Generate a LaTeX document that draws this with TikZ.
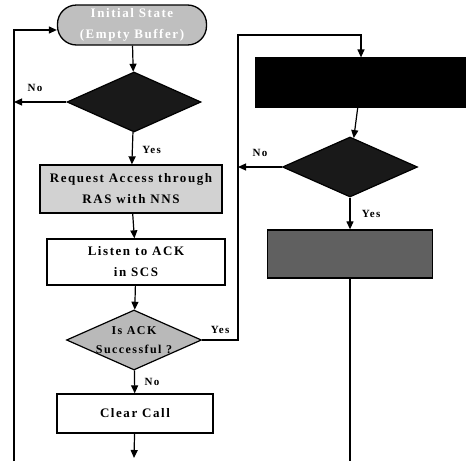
\documentclass[tikz,border=0pt]{standalone}
\usepackage{fontspec}
\newfontfamily\flowfont[LetterSpace=12]{Liberation Serif}
\usetikzlibrary{arrows.meta,shapes.geometric,calc}
\tikzset{
  every picture/.style={line join=miter, >={Triangle[length=8pt,width=7pt]}},
  flow/.style={line width=1.2pt},
  boxtext/.style={font=\flowfont\bfseries\fontsize{13}{21}\selectfont, align=center},
  startbox/.style={draw, line width=1.3pt, rounded corners=19pt, fill=gray!50, text=white,
    boxtext, minimum width=149pt, minimum height=40pt, inner sep=0pt},
  procbox/.style={draw, line width=1.3pt, fill=white, boxtext, inner sep=0pt},
  decision/.style={draw, line width=1.2pt, diamond, fill=gray!55, inner sep=0pt,
    minimum width=134pt, minimum height=60pt},
  dectext/.style={label={[boxtext, font=\flowfont\bfseries\fontsize{12}{19}\selectfont]center:#1}},
  lbl/.style={font=\flowfont\bfseries\fontsize{11}{13}\selectfont},
}

\begin{document}
\begin{tikzpicture}[x=1pt,y=-1pt]
\useasboundingbox (0,0) rectangle (466,461);
% left column
\node[startbox] (init) at (132,25) {Initial State\\(Empty Buffer)};
\node[decision, fill=black!90] (dec1) at (134,102) {};
\node[procbox, fill=gray!35, minimum width=182pt, minimum height=48pt] (req) at (131,189)
  {Request Access through\\RAS with NNS};
\node[procbox, minimum width=178pt, minimum height=46pt] (listen) at (136,262)
  {Listen to ACK\\in SCS};
\node[decision, minimum width=135pt, dectext={Is ACK\\Successful ?}] (dec2) at (134,340) {};
\node[procbox, minimum width=156pt, minimum height=39pt] (clear) at (135,413.5) {Clear Call};
% right column
\node[draw, line width=1.2pt, fill=black, minimum width=210pt, minimum height=49pt,
  inner sep=0pt] (blk) at (361,82.5) {};
\node[decision, fill=black!90, minimum width=135pt] (dec3) at (350,167) {};
\node[procbox, fill=gray!75!black, minimum width=165pt, minimum height=48pt] (act) at (350,254) {};
% loose ends
\coordinate (loopbot) at (14,461);
\coordinate (jtop) at (238,35);
\coordinate (actend) at (350,461);
\coordinate (clearend) at (134,458);

\draw[flow,->] (loopbot) |- ($(init.west)+(0,5)$);
\draw[flow,->] (init) -- (dec1);
\draw[flow,->] (dec1.west) -- (dec1.west -| loopbot) node[lbl, pos=0.6, above=6pt] {No};
\draw[flow,->] (dec1) -- (req) node[lbl, pos=0.55, right=6pt] {Yes};
\draw[flow,->] (req) -- (listen);
\draw[flow,->] (listen) -- (dec2);
\draw[flow,->] (dec2.east) -| (jtop) -| (blk.north);
\node[lbl, above=3pt] at ($(dec2.east)!0.5!(dec2.east -| jtop)$) {Yes};
\draw[flow,->] (dec2) -- (clear) node[lbl, pos=0.5, right=6pt] {No};
\draw[flow,->] (clear) -- (clearend);
\draw[flow,->] (blk) -- (dec3);
\draw[flow,->] (dec3.west) -- (dec3.west -| jtop) node[lbl, pos=0.5, above=6pt] {No};
\draw[flow,->] (dec3) -- (act) node[lbl, pos=0.5, right=8pt] {Yes};
\draw[flow] (act) -- (actend);
\end{tikzpicture}
\end{document}
